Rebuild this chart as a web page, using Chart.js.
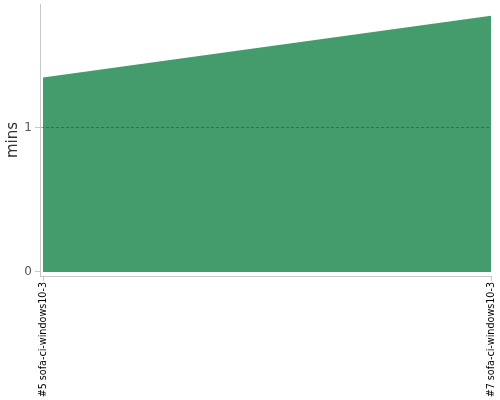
<!DOCTYPE html>
<html>
<head>
<meta charset="utf-8">
<script src="https://cdn.jsdelivr.net/npm/chart.js@4"></script>
<style>
  html, body { margin: 0; padding: 0; background: #fff; }
  #wrap { width: 500px; height: 400px; }
</style>
</head>
<body>
<div id="wrap"><canvas id="buildChart"></canvas></div>
<script>
// build labels and durations (minutes)
const builds = ['#5 sofa-ci-windows10-3', '#7 sofa-ci-windows10-3'];
const minutes = [1.35, 1.78];
const yTicks = [0, 1];

const points = minutes.map((v, i) => ({ x: i, y: v }));

const chartConfig = {
    type: 'line',
    data: {
        datasets: [{
            label: 'mins',
            data: points,
            fill: 'origin',
            backgroundColor: '#449b6c',
            borderColor: '#449b6c',
            borderWidth: 0,
            pointRadius: 0,
            tension: 0,
        }],
    },
    options: {
        responsive: true,
        maintainAspectRatio: false,
        animation: false,
        layout: {
            padding: { top: 4, right: 9, left: 0, bottom: 0 },
        },
        plugins: {
            legend: { display: false },
            tooltip: { enabled: false },
        },
        scales: {
            x: {
                type: 'linear',
                min: -0.0067,
                max: builds.length - 1,
                afterBuildTicks: s => { s.ticks = builds.map((b, i) => ({ value: i })); },
                afterFit: s => {
                    s.height = 124;
                    s.paddingLeft = 0;
                    s.paddingRight = 0;
                },
                border: { display: true, color: '#c8c8c8' },
                grid: {
                    drawOnChartArea: false,
                    drawTicks: true,
                    tickLength: 5,
                    color: '#c8c8c8',
                },
                ticks: {
                    autoSkip: false,
                    minRotation: 90,
                    maxRotation: 90,
                    padding: 1,
                    color: '#000',
                    font: { family: 'DejaVu Sans', size: 9.6 },
                    callback: v => builds[v],
                },
            },
            y: {
                min: -0.0278,
                max: 1.861,
                z: 1,
                afterBuildTicks: s => { s.ticks = yTicks.map(v => ({ value: v })); },
                afterFit: s => {
                    s.width = 40;
                    s.paddingTop = 0;
                    s.paddingBottom = 0;
                },
                // border drawn in the same layer as the grid (after it)
                border: { display: true, color: '#c8c8c8', dash: [3, 2], z: 1 },
                grid: {
                    z: 1,
                    drawTicks: true,
                    tickLength: 5,
                    color: ctx => ctx.tick && ctx.tick.value === 0 ? 'rgba(0,0,0,0)' : 'rgba(0,40,20,0.35)',
                    tickColor: '#c8c8c8',
                    tickBorderDash: [],
                },
                ticks: {
                    padding: 3,
                    color: '#555',
                    font: { family: 'DejaVu Sans', size: 12 },
                },
                title: {
                    display: true,
                    text: 'mins',
                    color: '#333',
                    padding: { top: 4, bottom: 0 },
                    font: { family: 'DejaVu Sans', size: 15 },
                },
            },
        },
    },
};

const ctx = document.getElementById('buildChart').getContext('2d');
const buildChart = new Chart(ctx, chartConfig);
</script>
</body>
</html>
